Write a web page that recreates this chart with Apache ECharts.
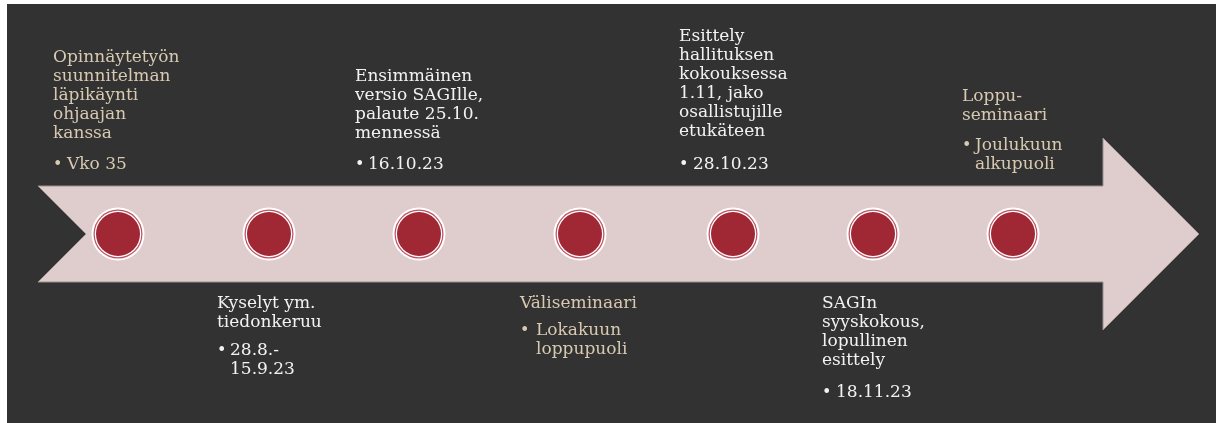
<!DOCTYPE html>
<html>
<head>
<meta charset="utf-8">
<script src="https://cdn.jsdelivr.net/npm/echarts@6/dist/echarts.min.js"></script>
<style>
  html, body { margin: 0; padding: 0; background: #ffffff; }
  #chart { position: absolute; left: 7px; top: 4px; width: 1209px; height: 419px; }
</style>
</head>
<body>
<div id="chart"></div>
<script>
// ---- data ----
const milestoneX = [118, 269, 419, 580, 733, 873, 1013];   // position along the timeline
const milestoneY = [234, 234, 234, 234, 234, 234, 234];
const titles = [
  'Opinnäytetyön\nsuunnitelman\nläpikäynti\nohjaajan\nkanssa',
  'Kyselyt ym.\ntiedonkeruu',
  'Ensimmäinen\nversio SAGIlle,\npalaute 25.10.\nmennessä',
  'Väliseminaari',
  'Esittely\nhallituksen\nkokouksessa\n1.11, jako\nosallistujille\netukäteen',
  'SAGIn\nsyyskokous,\nlopullinen\nesittely',
  'Loppu-\nseminaari'
];
const bullets = [
  'Vko 35',
  '28.8.-\n15.9.23',
  '16.10.23',
  'Lokakuun\nloppupuoli',
  '28.10.23',
  '18.11.23',
  'Joulukuun\nalkupuoli'
];
const tones = ['tan', 'light', 'light', 'tan', 'light', 'light', 'tan'];
const timelineOutline = [[38,186],[1103,186],[1103,138],[1199,234],[1103,330],[1103,282],[38,282],[86,234]];

// ---- layout (positions, not data) ----
const labelLeft   = [53, 217, 355, 520, 679, 822, 962];
const titleTop    = [48, 294, 67, 294, 27, 294, 87];
const bulletTop   = [155, 341, 155, 321, 155, 383, 136];
const bulletIndent = [14, 13, 13, 16, 14, 14, 13];

const toneColor = { tan: '#d8c9b1', light: '#f2f2f2' };
const FONT = '"DejaVu Serif", Georgia, serif';

const pts = milestoneX.map((x, i) => [x, milestoneY[i]]);
const chart = echarts.init(document.getElementById('chart'), null, { renderer: 'canvas' });

function ring(size, color, z) {
  return { type: 'scatter', z: z, data: pts, symbolSize: size, silent: true,
           itemStyle: { color: color, opacity: 1 }, emphasis: { disabled: true } };
}

chart.setOption({
  backgroundColor: '#323232',
  animation: false,
  grid: { left: 0, right: 0, top: 0, bottom: 0 },
  xAxis: { type: 'value', min: 7, max: 1216, show: false },
  yAxis: { type: 'value', min: 4, max: 423, inverse: true, show: false },
  series: [
    {
      type: 'custom',
      z: 1,
      data: [0],
      renderItem: function (params, api) {
        return {
          type: 'polygon',
          shape: { points: timelineOutline.map(p => api.coord(p)) },
          style: { fill: '#dfcdcd', stroke: '#9a8f8f', lineWidth: 1 }
        };
      }
    },
    ring(53, '#ffffff', 2),
    ring(49, '#bd5563', 3),
    ring(46.5, '#ffffff', 4),
    ring(44, '#a02835', 5),
    {
      type: 'custom',
      z: 6,
      data: titles.map((t, i) => i),
      renderItem: function (params, api) {
        const i = params.dataIndex;
        const color = toneColor[tones[i]];
        const p1 = api.coord([labelLeft[i], titleTop[i]]);
        const p2 = api.coord([labelLeft[i], bulletTop[i]]);
        return {
          type: 'group',
          children: [
            { type: 'text', x: p1[0], y: p1[1],
              style: { text: titles[i], fill: color, fontFamily: FONT, fontSize: 17, lineHeight: 19, verticalAlign: 'top', align: 'left' } },
            { type: 'text', x: p2[0], y: p2[1],
              style: { text: '•', fill: color, fontFamily: FONT, fontSize: 16, lineHeight: 19, verticalAlign: 'top', align: 'left' } },
            { type: 'text', x: p2[0] + bulletIndent[i], y: p2[1],
              style: { text: bullets[i], fill: color, fontFamily: FONT, fontSize: 17, lineHeight: 19, verticalAlign: 'top', align: 'left' } }
          ]
        };
      }
    }
  ]
});
</script>
</body>
</html>
